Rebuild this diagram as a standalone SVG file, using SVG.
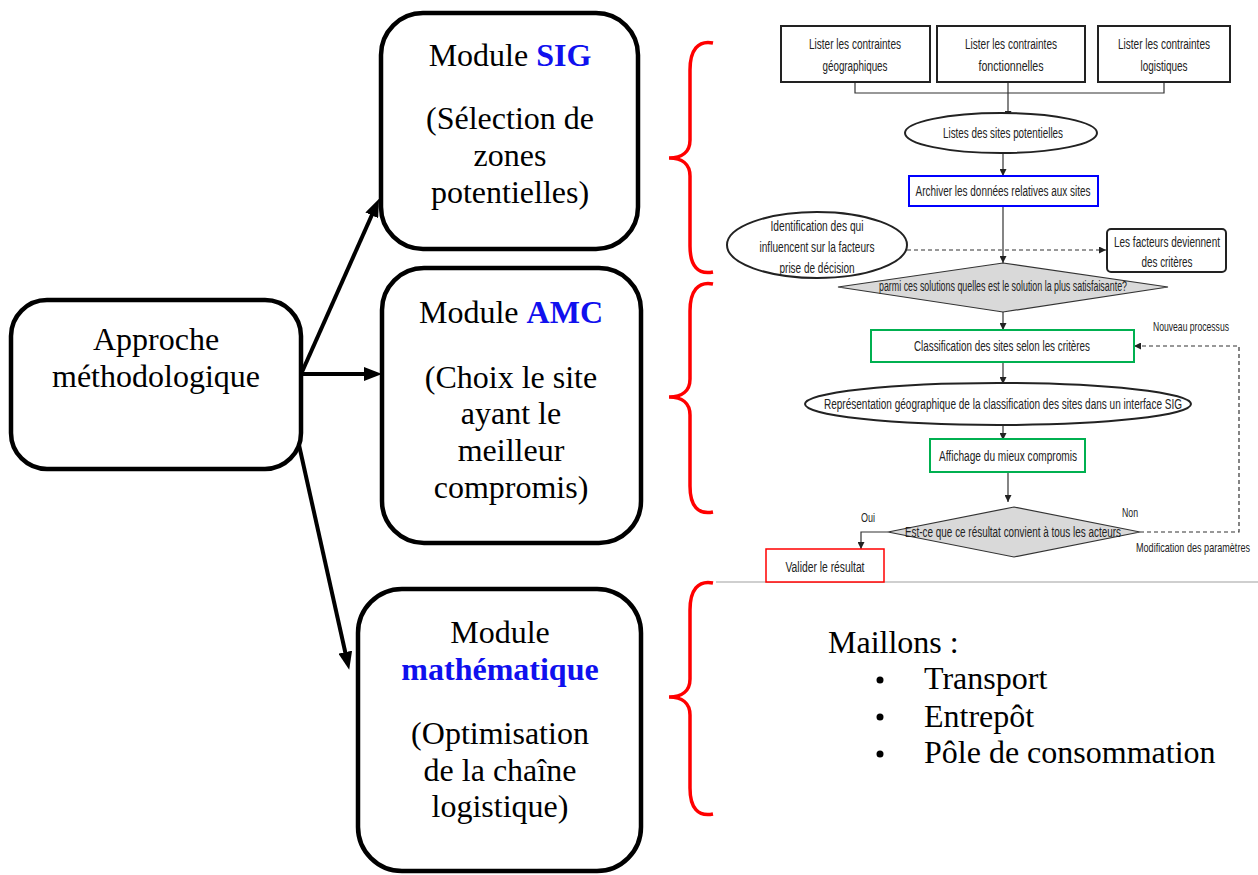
<svg xmlns="http://www.w3.org/2000/svg" width="1258" height="875" viewBox="0 0 1258 875">
<style>
.big{fill:#fff;stroke:#000;stroke-width:4.5}
.t{font-family:"Liberation Serif","Times New Roman",serif;font-size:32px;fill:#000;text-anchor:middle}
.blue{fill:#1010ee;font-weight:bold}
.brace{fill:none;stroke:#ff0000;stroke-width:3.5}
.conn{fill:none;stroke:#000;stroke-width:4}
.s{font-family:"Liberation Sans Narrow","Liberation Sans",Arial,sans-serif;font-size:14px;fill:#222;text-anchor:middle}
.sl{font-family:"Liberation Sans Narrow","Liberation Sans",Arial,sans-serif;font-size:13.5px;fill:#222}
.fb{fill:#fff;stroke:#222;stroke-width:2}
.fl{fill:none;stroke:#333;stroke-width:1.2}
.dash{fill:none;stroke:#333;stroke-width:1.2;stroke-dasharray:4,3}
.dia{fill:#d9d9d9;stroke:#333;stroke-width:1.2}
</style>
<defs>
<marker id="big" markerWidth="18" markerHeight="14" refX="8" refY="7" orient="auto" markerUnits="userSpaceOnUse"><path d="M0,0 L18,7 L0,14 z" fill="#000"/></marker>
<marker id="sm" markerWidth="7" markerHeight="7" refX="7" refY="3.5" orient="auto" markerUnits="userSpaceOnUse"><path d="M0,0 L7,3.5 L0,7 z" fill="#222"/></marker>
</defs>
<rect width="1258" height="875" fill="#fff"/>

<g id="connectors">
<line class="conn" x1="302" y1="372" x2="375" y2="208" marker-end="url(#big)"/>
<line class="conn" x1="302" y1="374" x2="372" y2="374" marker-end="url(#big)"/>
<line class="conn" x1="299" y1="445" x2="347" y2="660" marker-end="url(#big)"/>
</g>

<g id="approche">
<rect class="big" x="11" y="300" width="290" height="169" rx="36"/>
<text class="t" x="156" y="350">Approche</text>
<text class="t" x="156" y="387">méthodologique</text>
</g>

<g id="module-sig">
<rect class="big" x="381" y="13" width="257" height="236" rx="42"/>
<text class="t" x="510" y="66">Module <tspan class="blue">SIG</tspan></text>
<text class="t" x="510" y="129">(Sélection de</text>
<text class="t" x="510" y="166">zones</text>
<text class="t" x="510" y="203">potentielles)</text>
</g>

<g id="module-amc">
<rect class="big" x="382" y="268" width="259" height="275" rx="42"/>
<text class="t" x="511" y="323">Module <tspan class="blue">AMC</tspan></text>
<text class="t" x="511" y="388">(Choix le site</text>
<text class="t" x="511" y="424">ayant le</text>
<text class="t" x="511" y="461">meilleur</text>
<text class="t" x="511" y="498">compromis)</text>
</g>

<g id="module-math">
<rect class="big" x="358" y="589" width="283" height="282" rx="44"/>
<text class="t" x="500" y="643">Module</text>
<text class="t blue" x="500" y="680">mathématique</text>
<text class="t" x="500" y="744">(Optimisation</text>
<text class="t" x="500" y="781">de la chaîne</text>
<text class="t" x="500" y="817">logistique)</text>
</g>

<g id="braces">
<path class="brace" d="M713,43 C698,40 690,50 690,70 L690,140 C690,152 682,158 669,158 C682,158 690,164 690,176 L690,246 C690,266 698,275 713,272"/>
<path class="brace" d="M713,284 C698,281 690,291 690,311 L690,379 C690,391 682,397 669,397 C682,397 690,403 690,415 L690,486 C690,506 698,515 713,512"/>
<path class="brace" d="M713,583 C698,580 690,590 690,610 L690,679 C690,691 682,697 669,697 C682,697 690,703 690,715 L690,788 C690,808 698,817 713,814"/>
</g>

<g id="separator">
<line x1="716" y1="582" x2="1258" y2="582" stroke="#cfcfcf" stroke-width="2"/>
</g>

<g id="flow-connectors">
<path class="fl" d="M855,82 V93 H1164 V82"/>
<line class="fl" x1="1008" y1="82" x2="1008" y2="118" marker-end="url(#sm)"/>
<line class="fl" x1="1003" y1="153" x2="1003" y2="176" marker-end="url(#sm)"/>
<line class="fl" x1="1003" y1="206" x2="1003" y2="263" marker-end="url(#sm)"/>
<line class="dash" x1="907" y1="250" x2="1106" y2="250" marker-end="url(#sm)"/>
<line class="fl" x1="1003" y1="312" x2="1003" y2="330" marker-end="url(#sm)"/>
<line class="fl" x1="1003" y1="362" x2="1003" y2="384" marker-end="url(#sm)"/>
<line class="fl" x1="1003" y1="425" x2="1003" y2="440" marker-end="url(#sm)"/>
<line class="fl" x1="1008" y1="472" x2="1008" y2="502" marker-end="url(#sm)"/>
<path class="fl" d="M888,532 H861 V549" marker-end="url(#sm)"/>
<path class="dash" d="M1140,532 H1239 V346 H1134" stroke="#777" marker-end="url(#sm)"/>
</g>

<g id="f-geo">
<rect class="fb" x="781" y="26" width="149" height="56"/>
<text class="s" x="855" y="49" textLength="92" lengthAdjust="spacingAndGlyphs">Lister les contraintes</text>
<text class="s" x="855" y="71" textLength="65" lengthAdjust="spacingAndGlyphs">géographiques</text>
</g>
<g id="f-fonc">
<rect class="fb" x="937" y="26" width="148" height="56"/>
<text class="s" x="1011" y="49" textLength="92" lengthAdjust="spacingAndGlyphs">Lister les contraintes</text>
<text class="s" x="1011" y="71" textLength="65" lengthAdjust="spacingAndGlyphs">fonctionnelles</text>
</g>
<g id="f-log">
<rect class="fb" x="1098" y="26" width="132" height="56"/>
<text class="s" x="1164" y="49" textLength="92" lengthAdjust="spacingAndGlyphs">Lister les contraintes</text>
<text class="s" x="1164" y="71" textLength="47" lengthAdjust="spacingAndGlyphs">logistiques</text>
</g>
<g id="f-listes">
<ellipse class="fb" cx="1001" cy="133" rx="96" ry="20"/>
<text class="s" x="1003" y="138" textLength="120" lengthAdjust="spacingAndGlyphs">Listes des sites potentielles</text>
</g>
<g id="f-archiver">
<rect x="909" y="176" width="189" height="30" fill="#fff" stroke="#0000ff" stroke-width="2"/>
<text class="s" x="1003" y="196" textLength="175" lengthAdjust="spacingAndGlyphs">Archiver les données relatives aux sites</text>
</g>
<g id="f-identification">
<ellipse class="fb" cx="817" cy="245" rx="90" ry="33"/>
<text class="s" x="817" y="231" textLength="93" lengthAdjust="spacingAndGlyphs">Identification des qui</text>
<text class="s" x="817" y="252" textLength="115" lengthAdjust="spacingAndGlyphs">influencent sur la facteurs</text>
<text class="s" x="817" y="273" textLength="75" lengthAdjust="spacingAndGlyphs">prise de décision</text>
</g>
<g id="f-facteurs">
<rect class="fb" x="1107" y="229" width="119" height="43" rx="4"/>
<text class="s" x="1167" y="247" textLength="106" lengthAdjust="spacingAndGlyphs">Les facteurs deviennent</text>
<text class="s" x="1167" y="267" textLength="51" lengthAdjust="spacingAndGlyphs">des critères</text>
</g>
<g id="f-parmi">
<polygon class="dia" points="1003,263 1168,287 1003,312 838,287"/>
<text class="s" x="1003" y="291" textLength="248" lengthAdjust="spacingAndGlyphs">parmi ces solutions quelles est le solution la plus satisfaisante?</text>
</g>
<g id="f-classification">
<rect x="871" y="330" width="263" height="32" fill="#fff" stroke="#00b050" stroke-width="2"/>
<text class="s" x="1002" y="351" textLength="176" lengthAdjust="spacingAndGlyphs">Classification des sites selon les critères</text>
</g>
<g id="f-nouveau">
<text class="sl" x="1153" y="331" textLength="76" lengthAdjust="spacingAndGlyphs">Nouveau processus</text>
</g>
<g id="f-representation">
<ellipse class="fb" cx="998" cy="404" rx="193" ry="21"/>
<text class="s" x="1003" y="409" textLength="358" lengthAdjust="spacingAndGlyphs">Représentation géographique de la classification des sites dans un interface SIG</text>
</g>
<g id="f-affichage">
<rect x="930" y="439" width="155" height="33" fill="#fff" stroke="#00b050" stroke-width="2"/>
<text class="s" x="1008" y="461" textLength="138" lengthAdjust="spacingAndGlyphs">Affichage du mieux compromis</text>
</g>
<g id="f-estce">
<polygon class="dia" points="1014,507 1140,532 1014,557 888,532"/>
<text class="s" x="1013" y="537" textLength="216" lengthAdjust="spacingAndGlyphs">Est-ce que ce résultat convient à tous les acteurs</text>
<text class="sl" x="861" y="522" textLength="14" lengthAdjust="spacingAndGlyphs">Oui</text>
<text class="sl" x="1122" y="517" textLength="16" lengthAdjust="spacingAndGlyphs">Non</text>
<text class="sl" x="1136" y="552" textLength="114" lengthAdjust="spacingAndGlyphs">Modification des paramètres</text>
</g>
<g id="f-valider">
<rect x="766" y="549" width="118" height="33" fill="#fff" stroke="#ff0000" stroke-width="1.5"/>
<text class="s" x="825" y="572" textLength="79" lengthAdjust="spacingAndGlyphs">Valider le résultat</text>
</g>

<g id="maillons">
<text class="t" style="text-anchor:start" x="828" y="653">Maillons :</text>
<circle cx="880" cy="680" r="3.5" fill="#000"/>
<circle cx="880" cy="717" r="3.5" fill="#000"/>
<circle cx="880" cy="754" r="3.5" fill="#000"/>
<text class="t" style="text-anchor:start" x="924" y="689">Transport</text>
<text class="t" style="text-anchor:start" x="924" y="727">Entrepôt</text>
<text class="t" style="text-anchor:start" x="924" y="763">Pôle de consommation</text>
</g>
</svg>
